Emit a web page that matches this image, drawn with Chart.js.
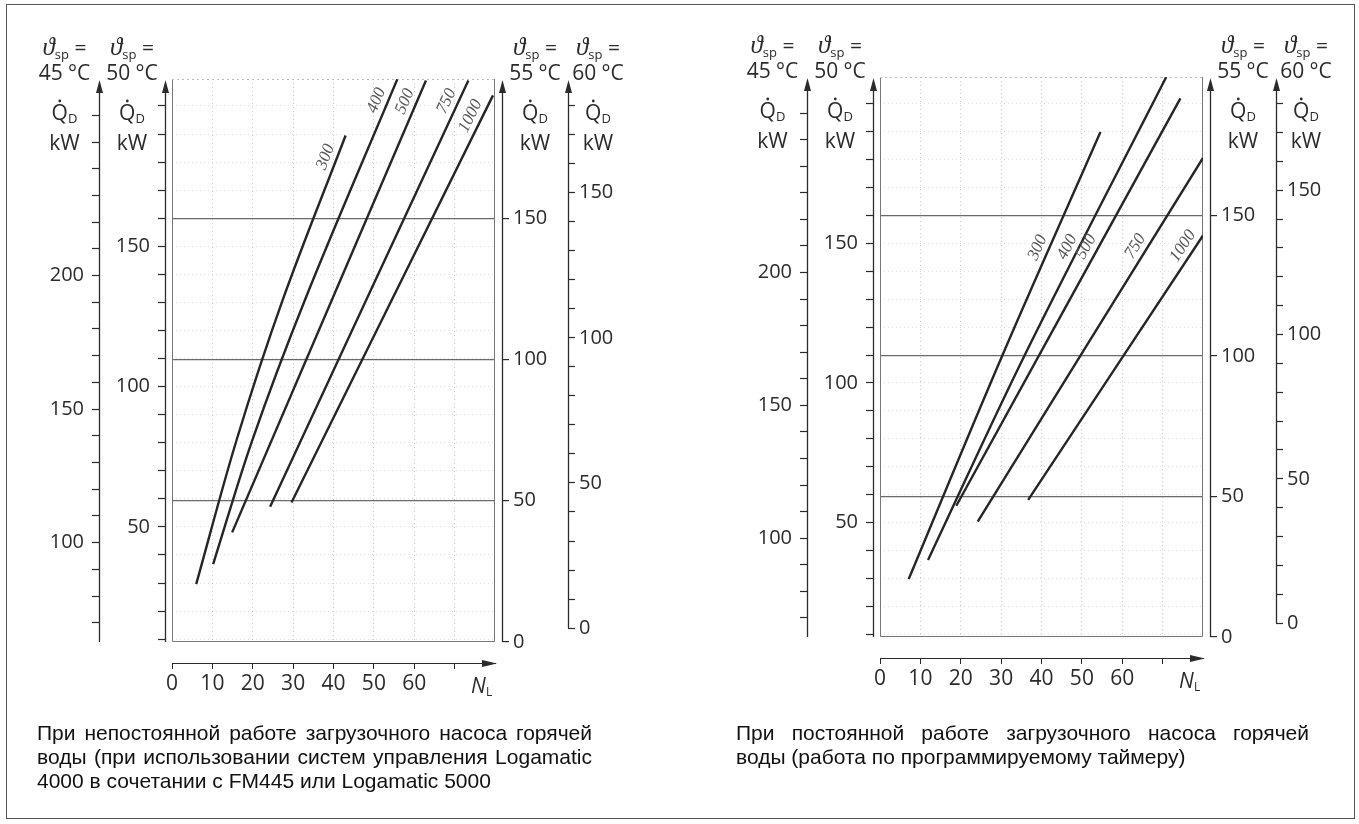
<!DOCTYPE html>
<html lang="ru">
<head>
<meta charset="utf-8">
<title>Q_D – N_L</title>
<script src="https://cdn.jsdelivr.net/npm/chart.js"></script>
<style>
  html, body { margin: 0; padding: 0; background: #fff; }
  #page { position: relative; width: 1359px; height: 824px; overflow: hidden; }
  #frame { position: absolute; left: 6px; top: 4px; width: 1349px; height: 815px; border: 1.5px solid #555; box-sizing: border-box; }
  canvas { position: absolute; left: 0; top: 0; }
  .caption { position: absolute; top: 721px; font-family: "Liberation Sans", Arial, sans-serif; font-size: 21px; line-height: 24px; color: #111; }
  .caption div { white-space: nowrap; }
  .caption .j { text-align: justify; text-align-last: justify; }
</style>
</head>
<body>
<div id="page">
  <div id="frame"></div>
  <canvas id="left" width="1359" height="824"></canvas>
  <canvas id="right" width="1359" height="824"></canvas>
  <div class="caption" style="left:37px;width:555px">
    <div class="j">При непостоянной работе загрузочного насоса горячей</div>
    <div class="j">воды (при использовании систем управления Logamatic</div>
    <div>4000 в сочетании с FM445 или Logamatic 5000</div>
  </div>
  <div class="caption" style="left:736px;width:573px">
    <div class="j">При постоянной работе загрузочного насоса горячей</div>
    <div>воды (работа по программируемому таймеру)</div>
  </div>
</div>
<script>
// storage volume of each curve, litres
const curveNames = ['300', '400', '500', '750', '1000'];

// intermittent charging pump: N_L and Q_D (kW, read on the 55 °C scale)
const leftN = [
  [6.0, 16.0, 27.4, 43.0],
  [10.2, 19.9, 32.9, 55.8],
  [14.9, 62.9],
  [24.3, 73.4],
  [29.6, 79.5]
];
const leftQ = [
  [20.5, 71.5, 121, 179.3],
  [27.6, 71.5, 121, 199.2],
  [38.8, 198.8],
  [47.9, 198.8],
  [49.4, 193.5]
];

// continuous charging pump (timer program)
const rightN = [
  [7.1, 30.3, 54.6],
  [11.9, 35.8, 70.9],
  [18.9, 74.4],
  [24.2, 80],
  [36.7, 80]
];
const rightQ = [
  [20.6, 100.2, 179.7],
  [27.4, 100.2, 199.3],
  [46.7, 191.7],
  [41.1, 170.5],
  [48.8, 142.9]
];

// axes
const nTicks = [0, 10, 20, 30, 40, 50, 60, 70];
const nLabels = [0, 10, 20, 30, 40, 50, 60];
const q45Labels = [100, 150, 200];
const q50Labels = [50, 100, 150];
const q55Labels = [0, 50, 100, 150];
const q60Labels = [0, 50, 100, 150];
const axisTemps = { y45: '45 °C', y50: '50 °C', y55: '55 °C', y60: '60 °C' };

const INK = '#2b2b2b';
const SANS = "'Open Sans', 'Noto Sans', sans-serif";
const SERIF = "'Liberation Serif', 'DejaVu Serif', serif";

function steps(from, to, step) {
  const out = [];
  for (let v = from; v <= to; v += step) out.push(v);
  return out;
}

function drawRun(ctx, parts, cx, baseline) {
  let total = 0;
  parts.forEach(p => { ctx.font = p.font; p.w = ctx.measureText(p.text).width; total += p.w; });
  let x = cx - total / 2;
  parts.forEach(p => {
    ctx.font = p.font;
    ctx.fillText(p.text, x, baseline + (p.dy || 0));
    p.x = x;
    x += p.w;
  });
  return parts;
}

const decor = {
  id: 'decor',
  beforeDatasetsDraw(chart) {
    const { ctx, chartArea: a } = chart;
    ctx.save();
    ctx.lineWidth = 1;
    ctx.strokeStyle = '#777';
    ctx.beginPath();
    ctx.moveTo(a.left + 0.5, a.top); ctx.lineTo(a.left + 0.5, a.bottom - 0.5);
    ctx.lineTo(a.right - 0.5, a.bottom - 0.5); ctx.lineTo(a.right - 0.5, a.top);
    ctx.stroke();
    ctx.strokeStyle = '#bbb';
    ctx.setLineDash([2, 3]);
    ctx.beginPath(); ctx.moveTo(a.left, a.top + 0.5); ctx.lineTo(a.right, a.top + 0.5); ctx.stroke();
    ctx.restore();
  },
  afterDraw(chart, args, opts) {
    const { ctx, chartArea: a, scales } = chart;
    ctx.save();
    ctx.fillStyle = INK;
    ctx.strokeStyle = INK;
    ctx.textBaseline = 'alphabetic';

    // temperature axes: line, arrow, header
    Object.keys(axisTemps).forEach(id => {
      const s = scales[id];
      const x = Math.round(s.position === 'left' ? s.right : s.left) + 0.5;
      const bottom = (id === 'y55' || id === 'y60') ? s.getPixelForValue(0) : a.bottom;
      const tip = a.top + 1;
      ctx.lineWidth = 1.3;
      ctx.beginPath(); ctx.moveTo(x, tip + 6); ctx.lineTo(x, bottom); ctx.stroke();
      ctx.beginPath(); ctx.moveTo(x, tip); ctx.lineTo(x - 3.5, tip + 13); ctx.lineTo(x + 3.5, tip + 13); ctx.closePath(); ctx.fill();

      const cx = (s.left + s.right) / 2;
      const big = `21px ${SANS}`, small = `13px ${SANS}`;
      drawRun(ctx, [{ text: 'ϑ', font: `italic 25px ${SERIF}` }, { text: 'sp', font: small, dy: 4 }, { text: ' =', font: big }], cx, a.top - 24);
      drawRun(ctx, [{ text: axisTemps[id], font: big }], cx, a.top + 1);
      const q = drawRun(ctx, [{ text: 'Q', font: big }, { text: 'D', font: small, dy: 3 }], cx, a.top + 41);
      ctx.beginPath(); ctx.arc(q[0].x + q[0].w / 2, a.top + 41 - 19, 1.4, 0, Math.PI * 2); ctx.fill();
      drawRun(ctx, [{ text: 'kW', font: big }], cx, a.top + 71);
    });

    // N_L axis arrow and name
    const xn = scales.xN;
    const ay = Math.round(xn.top) + 0.5;
    ctx.beginPath(); ctx.moveTo(a.right + 2, ay); ctx.lineTo(a.right - 13, ay - 3.5); ctx.lineTo(a.right - 13, ay + 3.5); ctx.closePath(); ctx.fill();
    ctx.font = `italic 21px ${SANS}`;
    ctx.fillText('N', a.right - 24, ay + 29);
    ctx.font = `12px ${SANS}`;
    ctx.fillText('L', a.right - 9, ay + 32);

    // curve labels, parallel to each curve
    const xs = scales.x, ys = scales.y55;
    ctx.font = `italic 17px ${SERIF}`;
    ctx.fillStyle = '#555';
    ctx.textAlign = 'center';
    ctx.textBaseline = 'middle';
    chart.data.datasets.forEach(ds => {
      const pts = ds.data;
      const last = pts[pts.length - 1].y;
      const target = opts.labelQ === 'top' ? Math.min(192, last - 9) : opts.labelQ;
      let i = 0;
      while (i < pts.length - 2 && pts[i + 1].y < target) i++;
      const p0 = pts[i], p1 = pts[i + 1];
      const t = (target - p0.y) / (p1.y - p0.y);
      const px = xs.getPixelForValue(p0.x + t * (p1.x - p0.x));
      const py = ys.getPixelForValue(target);
      const ang = Math.atan2(ys.getPixelForValue(p1.y) - ys.getPixelForValue(p0.y),
                             xs.getPixelForValue(p1.x) - xs.getPixelForValue(p0.x));
      const lx = px + 11 * Math.sin(ang), ly = py - 11 * Math.cos(ang);
      ctx.save();
      ctx.translate(lx, ly);
      ctx.rotate(ang);
      ctx.fillText(ds.label, 0, 0);
      ctx.restore();
    });
    ctx.restore();
  }
};

function yScale(pos, weight, width, min, max, tickValues, labels, grid) {
  return {
    type: 'linear', position: pos, weight: weight, min: min, max: max,
    afterFit: s => { s.width = width; },
    afterBuildTicks: s => { s.ticks = tickValues.map(v => ({ value: v })); },
    border: grid.dash ? { display: false, dash: grid.dash } : { display: false },
    grid: Object.assign({ drawOnChartArea: false, drawTicks: true, tickLength: 7, tickColor: INK, tickWidth: 1.2, tickBorderDash: [] }, grid.opts),
    ticks: {
      color: INK, padding: pos === 'left' ? 8 : 4, autoSkip: false, source: 'data',
      font: { family: SANS, size: 20 },
      callback: v => labels.includes(v) ? String(v) : ''
    }
  };
}

function buildPanel(canvasId, ns, qs, panel) {
  const canvas = document.getElementById(canvasId);
  // software-backed 2D context, taken before Chart.js asks for it
  canvas.getContext('2d', { willReadFrequently: true });

  const datasets = curveNames.map((name, i) => ({
    label: name,
    data: ns[i].map((n, k) => ({ x: n, y: qs[i][k] })),
    xAxisID: 'x',
    yAxisID: 'y55',
    showLine: true,
    borderColor: '#262626',
    borderWidth: 2.4,
    pointRadius: 0,
    tension: 0.35,
    fill: false
  }));

  return new Chart(canvas, {
    type: 'scatter',
    data: { datasets },
    options: {
      responsive: false,
      animation: false,
      devicePixelRatio: 1,
      layout: { padding: panel.padding },
      plugins: {
        legend: { display: false },
        tooltip: { enabled: false },
        decor: { labelQ: panel.labelQ }
      },
      scales: {
        x: {
          type: 'linear', position: 'bottom', weight: 1, min: 0, max: 80,
          afterFit: s => { s.height = 21; },
          afterBuildTicks: s => { s.ticks = nTicks.filter(v => v > 0).map(v => ({ value: v })); },
          ticks: { display: false },
          grid: { drawOnChartArea: true, drawTicks: false, color: 'rgba(0,0,0,0.2)', lineWidth: 1 },
          border: { display: false, dash: [1, 3] }
        },
        xN: {
          type: 'linear', position: 'bottom', weight: 2, min: 0, max: 80,
          afterFit: s => { s.height = 40; },
          afterBuildTicks: s => { s.ticks = nTicks.map(v => ({ value: v })); },
          grid: { drawOnChartArea: false, drawTicks: true, tickLength: 6, tickColor: INK },
          border: { display: true, color: INK },
          ticks: {
            color: INK, padding: 2, autoSkip: false, source: 'data', maxRotation: 0,
            font: { family: SANS, size: 21 },
            callback: v => nLabels.includes(v) ? String(v) : ''
          }
        },
        y45: yScale('left', 3, 69, 62.8, 273.6, steps(70, 260, 10), q45Labels, {}),
        y50: yScale('left', 2, 66, 9, 209.6, steps(10, 200, 10), q50Labels, {
          dash: [1, 3],
          opts: { drawOnChartArea: true, color: 'rgba(0,0,0,0.13)' }
        }),
        padL: { type: 'linear', position: 'left', weight: 1, afterFit: s => { s.width = 7; },
                ticks: { display: false }, grid: { display: false }, border: { display: false } },
        padR: { type: 'linear', position: 'right', weight: 1, afterFit: s => { s.width = 7; },
                ticks: { display: false }, grid: { display: false }, border: { display: false } },
        y55: yScale('right', 2, 66, 0, 199.3, q55Labels, q55Labels, {
          opts: { drawOnChartArea: true, lineWidth: 1.2, color: c => c.tick && c.tick.value > 0 ? '#6a6a6a' : 'rgba(0,0,0,0)' }
        }),
        y60: yScale('right', 3, 60, -4.8, 189.2, steps(0, 180, 10), q60Labels, {})
      }
    },
    plugins: [decor]
  });
}

buildPanel('left', leftN, leftQ, { labelQ: 'top', padding: { left: 30, right: 731, top: 79, bottom: 121 } });
buildPanel('right', rightN, rightQ, { labelQ: 137, padding: { left: 738, right: 23, top: 77, bottom: 126 } });
</script>
</body>
</html>
